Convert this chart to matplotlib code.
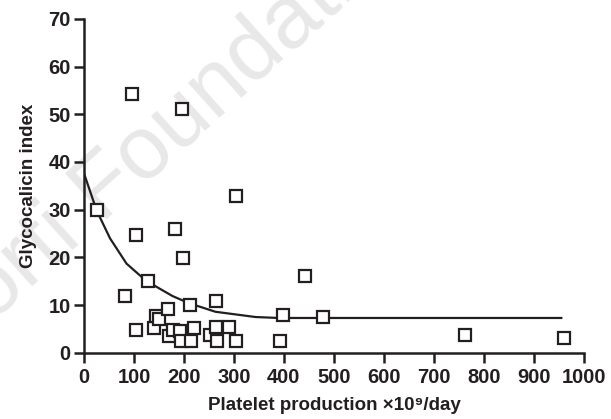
import matplotlib
matplotlib.use("Agg")
import matplotlib.pyplot as plt

# Dados
production = [25, 104, 182, 199, 128, 83, 212, 264, 443, 398, 478,
              104, 141, 144, 151, 168, 171, 178, 192, 195, 215, 220,
              252, 265, 266, 291, 305, 393, 196, 96, 304, 763, 961]
glyco_index = [29.9, 24.6, 25.9, 19.9, 15.0, 12.0, 10.1, 10.8, 16.2, 8.0, 7.4,
               4.8, 5.2, 7.7, 7.0, 9.2, 3.5, 4.8, 4.5, 2.4, 2.4, 5.2,
               3.7, 5.5, 2.4, 5.5, 2.4, 2.4, 51.0, 54.2, 32.9, 3.7, 3.0]

# Curva ajustada
fit_x = [0, 25, 52, 85, 124, 177, 210, 263, 343, 389, 475, 955]
fit_y = [37.6, 29.9, 24.0, 18.7, 15.1, 11.9, 10.4, 8.6, 7.5, 7.3, 7.3, 7.3]

x_ticks = [0, 100, 200, 300, 400, 500, 600, 700, 800, 900, 1000]
y_ticks = [0, 10, 20, 30, 40, 50, 60, 70]

fonte = ['Liberation Sans', 'DejaVu Sans']
plt.rcParams['font.family'] = fonte
cor = '#231f20'

fig = plt.figure(figsize=(6.11, 4.19), dpi=100)
ax = fig.add_axes([0.1375, 0.158, 0.818, 0.797])

# Marca d'água (atrás de tudo)
fig.text(-0.115, 0.096, 'Storti Foundation', fontsize=64, color='#e8e8e8',
         rotation=42, rotation_mode='anchor', ha='left', va='baseline',
         zorder=-1)

ax.plot(fit_x, fit_y, color=cor, lw=1.6, zorder=2)
ax.plot(production, glyco_index, ls='none', marker='s', ms=8.5,
        mfc='white', mec=cor, mew=1.6, zorder=3, clip_on=False)

ax.set_xlim(0, 1000)
ax.set_ylim(0, 70)
ax.set_xticks(x_ticks)
ax.set_yticks(y_ticks)
ax.patch.set_alpha(0)
for s in ['top', 'right']:
    ax.spines[s].set_visible(False)
for s in ['left', 'bottom']:
    ax.spines[s].set_linewidth(1.8)
    ax.spines[s].set_color(cor)
ax.tick_params(length=7.5, width=1.8, color=cor,
               labelsize=14.5, labelcolor=cor)
ax.tick_params(axis='x', pad=3.5)
ax.tick_params(axis='y', pad=2)
for lab in ax.get_xticklabels() + ax.get_yticklabels():
    lab.set_fontweight('bold')

ax.set_xlabel('Platelet production \u00d710\u2079/day', fontsize=13.5,
              fontweight='bold', color=cor, labelpad=7)
ax.set_ylabel('Glycocalicin index', fontsize=13.5, fontweight='bold',
              color=cor, labelpad=8)

plt.savefig('out.png', dpi=100)
plt.close()
